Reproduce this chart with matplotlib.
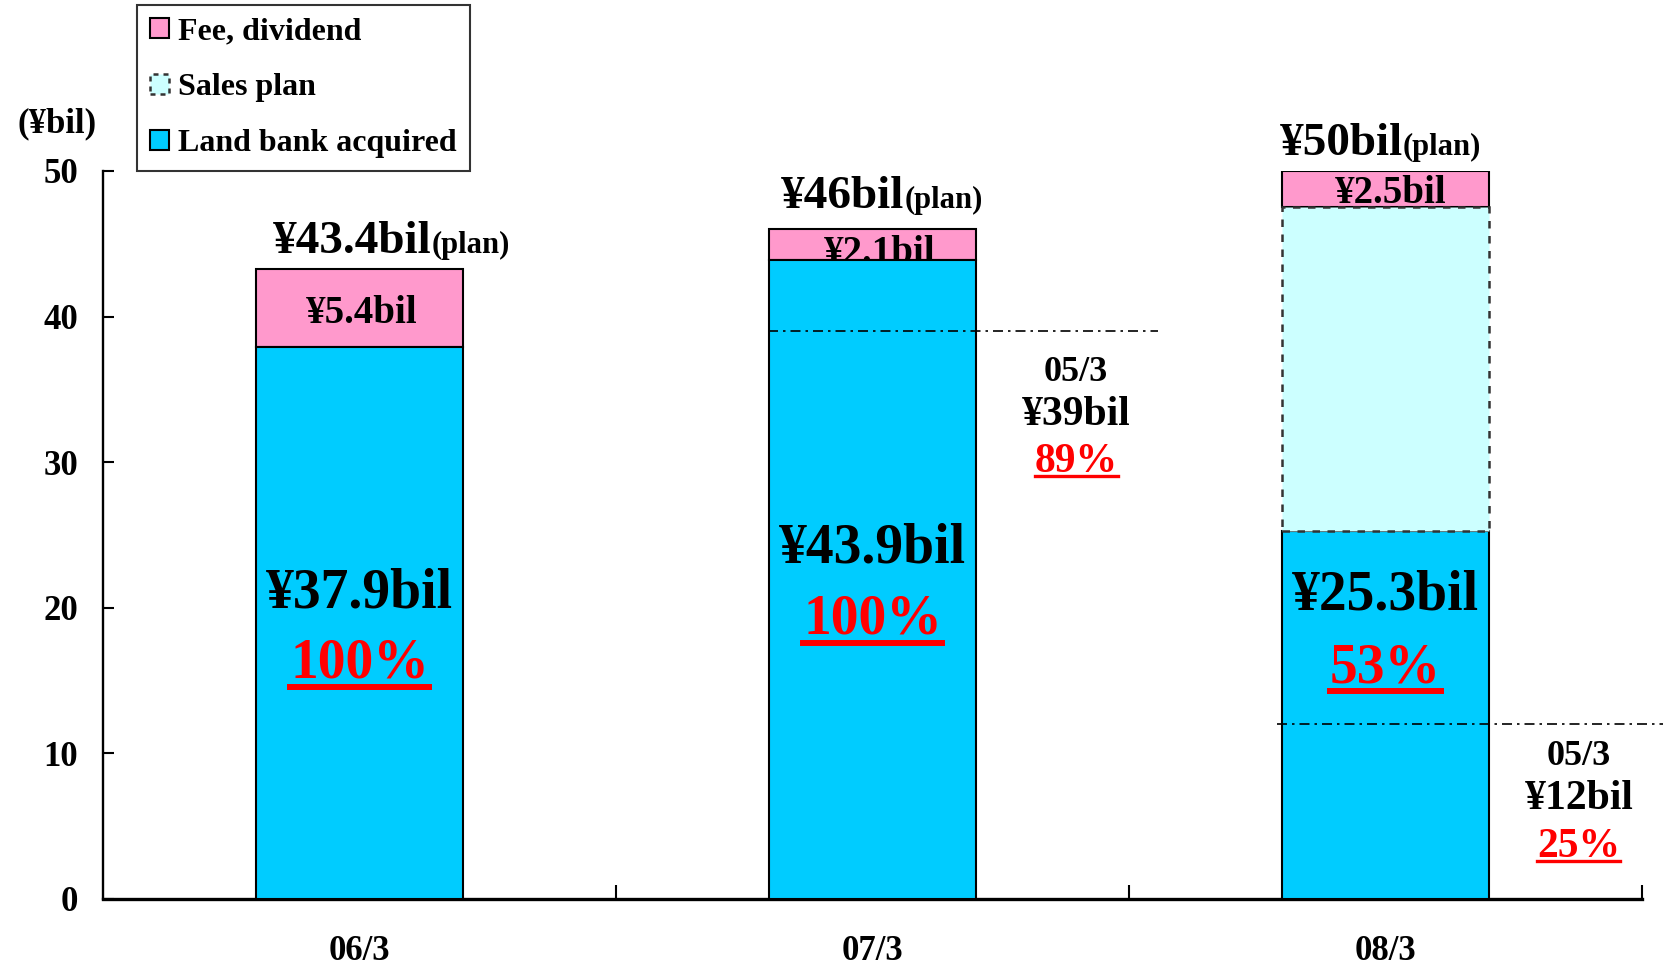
import matplotlib
matplotlib.use("Agg")
import matplotlib.pyplot as plt
from matplotlib.lines import Line2D
from matplotlib.patches import Patch
from matplotlib.transforms import IdentityTransform

plt.rcParams['font.family'] = ['Liberation Serif', 'DejaVu Serif']
plt.rcParams['font.weight'] = 'bold'

# Land bank progress per fiscal year (¥ billions)
periods = ['06/3', '07/3', '08/3']
land_bank = [37.9, 43.9, 25.3]
sales_plan = [0.0, 0.0, 22.2]
fee_dividend = [5.4, 2.1, 2.5]
totals = ['¥43.4bil', '¥46bil', '¥50bil']
land_pct = ['100%', '100%', '53%']

# Reference levels at 05/3
ref_values = [39, 12]
ref_labels = ['¥39bil', '¥12bil']
ref_pct = ['89%', '25%']

CYAN = '#00CCFF'
PINK = '#FF99CC'
LIGHT = '#CCFFFF'

fig = plt.figure(figsize=(16.66, 9.66), dpi=100)
ax = fig.add_axes([0.0618, 0.0694, 0.9238, 0.7536])

x = list(range(len(periods)))
w = 0.405

ax.bar(x, land_bank, w, color=CYAN, edgecolor='black', linewidth=1.5, zorder=3)
# only periods that still have a sales plan get the dashed block
sp_idx = [i for i, v in enumerate(sales_plan) if v > 0]
ax.bar([x[i] for i in sp_idx], [sales_plan[i] for i in sp_idx], w,
       bottom=[land_bank[i] for i in sp_idx], color=LIGHT, edgecolor='#333333',
       linewidth=1.8, linestyle=(0, (3, 3)), zorder=3.5)
fee_bottom = [a + b for a, b in zip(land_bank, sales_plan)]
ax.bar(x, fee_dividend, w, bottom=fee_bottom, color=PINK, edgecolor='black',
       linewidth=1.5, zorder=1)

ax.set_xlim(-0.5, 2.5)
ax.set_ylim(0, 50)
ax.set_yticks(range(0, 51, 10))
ax.set_xticks(x)
ax.set_xticklabels(periods)
ax.set_xticks([0.5, 1.5, 2.5], minor=True)

for s in ['top', 'right']:
    ax.spines[s].set_visible(False)
ax.spines['left'].set_linewidth(1.7)
ax.spines['bottom'].set_linewidth(2.4)

ax.tick_params(axis='y', direction='in', length=8, width=1.5, labelsize=25, pad=18)
ax.tick_params(axis='x', which='major', length=0, labelsize=25, pad=26)
ax.tick_params(axis='x', which='minor', direction='in', length=10, width=1.5)

# Total labels above each bar: big amount + small "(plan)"
total_y = [44.4, 47.45, 51.1]
total_split = [0.14, 1.062, 2.034]
for xs, ty, lab in zip(total_split, total_y, totals):
    ax.text(xs, ty, lab, ha='right', va='baseline', fontsize=34, zorder=6)
    ax.text(xs, ty, '(plan)', ha='left', va='baseline', fontsize=22, zorder=6)

# Fee / dividend labels (kept under the cyan bar so it can clip them)
fee_y = [39.56, 43.7, 47.8]
fee_x = [0.005, 1.015, 2.01]
for fx, fy, v in zip(fee_x, fee_y, fee_dividend):
    ax.text(fx, fy, f'¥{v}bil', ha='center', va='baseline', fontsize=28, zorder=2)

# Land bank amount and ratio inside the bars
amt_y = [20.0, 23.1, 19.85]
pct_y = [15.2, 18.2, 14.9]
underlines = []
for i, v in enumerate(land_bank):
    ax.text(x[i], amt_y[i], f'¥{v}bil', ha='center', va='baseline', fontsize=40, zorder=6)
    t = ax.text(x[i], pct_y[i], land_pct[i], ha='center', va='baseline',
                fontsize=40, color='red', zorder=6)
    underlines.append((t, pct_y[i], 9, 4.3))

# 05/3 reference lines with side notes
ref_x0 = [0.796, 1.788]
ref_x1 = [1.556, 2.54]
note_x = [1.397, 2.377]
note_y = [(35.6, 32.55, 29.3), (9.2, 6.18, 2.88)]
for i, rv in enumerate(ref_values):
    ax.plot([ref_x0[i], ref_x1[i]], [rv, rv], color='black', linewidth=1.2,
            linestyle=(0, (6, 3, 1.5, 3)), zorder=5, clip_on=False)
    y1, y2, y3 = note_y[i]
    ax.text(note_x[i], y1, '05/3', ha='center', va='baseline', fontsize=26, zorder=6)
    ax.text(note_x[i], y2, ref_labels[i], ha='center', va='baseline', fontsize=30, zorder=6)
    t = ax.text(note_x[i], y3, ref_pct[i], ha='center', va='baseline',
                fontsize=30, color='red', zorder=6)
    underlines.append((t, y3, 4, 2.4))

fig.text(0.034, 0.863, '(¥bil)', ha='center', va='baseline', fontsize=25)

handles = [
    Patch(facecolor=PINK, edgecolor='black', linewidth=1.5, label='Fee, dividend'),
    Patch(facecolor=LIGHT, edgecolor='#333333', linewidth=1.8, linestyle=(0, (2, 2)),
          label='Sales plan'),
    Patch(facecolor=CYAN, edgecolor='black', linewidth=1.5, label='Land bank acquired'),
]
leg = fig.legend(handles=handles, loc='upper left', bbox_to_anchor=(0.0822, 0.995),
                 fontsize=23, frameon=True, fancybox=False, edgecolor='black',
                 handlelength=0.6, handleheight=0.6, handletextpad=0.3,
                 labelspacing=0.84, borderpad=0.4, borderaxespad=0)
leg.get_frame().set_linewidth(1.5)

# underline the red percentages
fig.canvas.draw()
renderer = fig.canvas.get_renderer()
for t, base_y, off, lw in underlines:
    bb = t.get_window_extent(renderer)
    _, yb = ax.transData.transform((0, base_y))
    fig.add_artist(Line2D([bb.x0, bb.x1], [yb - off, yb - off], color='red',
                          linewidth=lw, transform=IdentityTransform(), zorder=7))

fig.savefig('out.png', dpi=100, facecolor='white')
